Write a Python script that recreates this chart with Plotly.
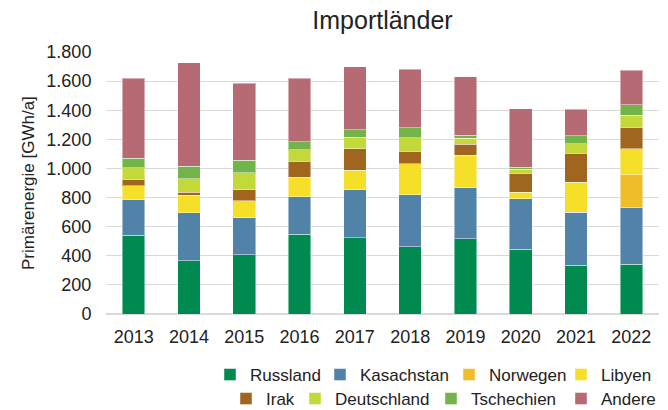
import plotly.graph_objects as go

years = ["2013", "2014", "2015", "2016", "2017", "2018", "2019", "2020", "2021", "2022"]

russland = [540, 367, 408, 548, 525, 463, 518, 445, 335, 342]
kasachstan = [245, 328, 257, 257, 328, 356, 351, 346, 365, 387]
norwegen = [0, 0, 0, 0, 0, 0, 0, 0, 0, 229]
libyen = [95, 122, 112, 135, 133, 215, 220, 44, 206, 179]
irak = [45, 18, 78, 108, 149, 83, 76, 133, 197, 147]
deutschland = [80, 94, 115, 80, 78, 94, 41, 28, 67, 80]
tschechien = [65, 87, 87, 57, 53, 69, 23, 13, 53, 72]
andere = [550, 709, 530, 434, 431, 403, 402, 401, 183, 238]

names = ["Russland", "Kasachstan", "Norwegen", "Libyen",
         "Irak", "Deutschland", "Tschechien", "Andere"]
values = [russland, kasachstan, norwegen, libyen, irak, deutschland, tschechien, andere]
colors = ["#008a50", "#5183a8", "#f0bd2a", "#f5df28",
          "#a0651f", "#c3d839", "#72b34a", "#b66a73"]

# legend entries placed like the original (text start x, row centre y) in px
legend_pos = [(246, 375), (356, 375), (485, 375), (597, 375),
              (262, 399), (331, 399), (467, 399), (597, 399)]

W, H = 668, 410
L, R = 106, 9
font = "Liberation Sans, Arial, sans-serif"

fig = go.Figure()
legends = {}
for i, (name, vals, color) in enumerate(zip(names, values, colors)):
    key = "legend" if i == 0 else f"legend{i + 1}"
    fig.add_trace(go.Bar(
        x=years, y=vals, name=name, legend=key, showlegend=True,
        marker=dict(color=color, line=dict(color="rgba(255,255,255,0.45)", width=1)),
    ))
    tx, ty = legend_pos[i]
    legends[key] = dict(
        xref="container", yref="container",
        x=(tx - 36) / W, xanchor="left",
        y=1 - ty / H, yanchor="middle",
        font=dict(size=17, color="#222222", family=font),
        bgcolor="rgba(0,0,0,0)", borderwidth=0, itemclick=False,
    )

fig.update_layout(
    showlegend=True,
    barmode="stack",
    bargap=0.59,
    width=W, height=H,
    margin=dict(l=L, r=R, t=52, b=96, autoexpand=False),
    paper_bgcolor="white", plot_bgcolor="white",
    font=dict(family=font, color="#222222"),
    title=dict(text="Importländer", xref="paper", x=0.5, xanchor="center",
               yref="container", y=1 - 20 / H, yanchor="middle",
               font=dict(size=25, color="#222222", family=font)),
    xaxis=dict(tickfont=dict(size=18), showgrid=False, ticks="outside",
               ticklen=6, tickcolor="white", showline=False),
    yaxis=dict(
        range=[0, 1800], dtick=200, tickformat=",d",
        tickfont=dict(size=18),
        gridcolor="#d9d9d9", gridwidth=1, zeroline=True, zerolinecolor="#d9d9d9",
        ticks="outside", ticklen=10, tickcolor="white",
    ),
    separators=",.",
    annotations=[dict(
        text="Primärenergie [GWh/a]", textangle=-90,
        xref="paper", yref="paper", x=(28 - L) / (W - L - R), y=0.5,
        xanchor="center", yanchor="middle", showarrow=False,
        font=dict(size=17, color="#222222", family=font),
    )],
    **legends,
)

fig.write_html("out.html", config={"displayModeBar": False},
               post_script="document.body.style.margin='0';")
